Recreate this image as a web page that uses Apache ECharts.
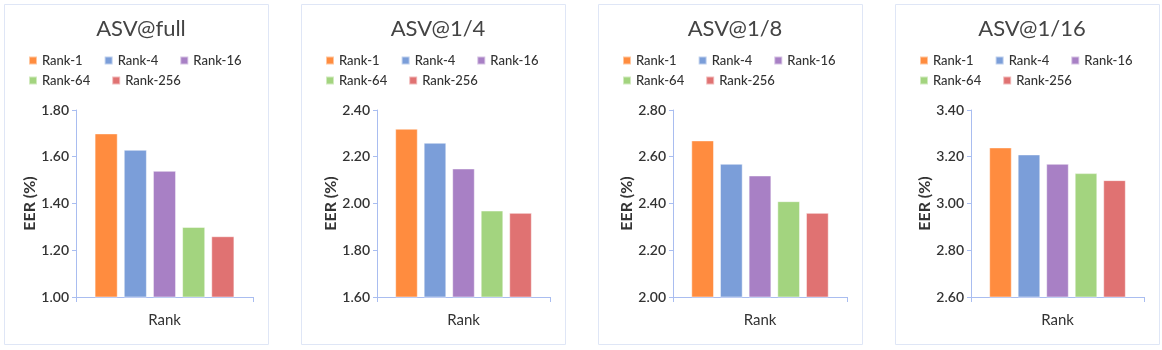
<!DOCTYPE html>
<html>
<head>
<meta charset="utf-8">
<script src="https://cdn.jsdelivr.net/npm/echarts@6/dist/echarts.min.js"></script>
<style>
  html, body { margin: 0; padding: 0; background: #fff; }
  #chart { width: 1162px; height: 350px; }
</style>
</head>
<body>
<div id="chart"></div>
<script>
const titles = ['ASV@full', 'ASV@1/4', 'ASV@1/8', 'ASV@1/16'];
const rankNames = ['Rank-1', 'Rank-4', 'Rank-16', 'Rank-64', 'Rank-256'];
const rankColors = ['#ff8c3f', '#7b9ed9', '#a880c5', '#a3d47f', '#e07272'];
const yMins = [1.0, 1.6, 2.0, 2.6];
const yMaxs = [1.8, 2.4, 2.8, 3.4];
const yStep = 0.2;
// one row per panel, one value per rank
const eerFull = [1.70, 1.63, 1.54, 1.30, 1.26];
const eerQuarter = [2.32, 2.26, 2.15, 1.97, 1.96];
const eerEighth = [2.67, 2.57, 2.52, 2.41, 2.36];
const eerSixteenth = [3.24, 3.21, 3.17, 3.13, 3.10];
const panelData = [eerFull, eerQuarter, eerEighth, eerSixteenth];

// panel frames and plot areas (px)
const panelLeft = [4, 301, 598, 895];
const panelWidth = 264;
const gridLeft = [76, 377, 673, 971];
const gridWidth = [177, 173, 174, 173];

const font = 'Lato, "Noto Sans", sans-serif';
const axisColor = '#a9bdf0';

const chart = echarts.init(document.getElementById('chart'));

let option = {
  animation: false,
  textStyle: { fontFamily: font },
  title: [],
  legend: [],
  grid: [],
  xAxis: [],
  yAxis: [],
  series: [],
  graphic: [],
};

function legendRow(names, left, top) {
  return {
    data: names,
    left: left,
    top: top,
    itemWidth: 8,
    itemHeight: 8,
    itemGap: 21,
    icon: 'rect',
    selectedMode: false,
    padding: 0,
    textStyle: { fontFamily: font, fontSize: 13, fontWeight: 500, color: '#333' },
  };
}

titles.forEach((t, i) => {
  option.graphic.push({
    type: 'rect',
    shape: { x: panelLeft[i] + 0.5, y: 4.5, width: panelWidth, height: 340 },
    style: { fill: 'none', stroke: '#dfe6f6', lineWidth: 1 },
    silent: true,
  });
  option.title.push({
    text: t,
    left: panelLeft[i] + panelWidth / 2,
    textAlign: 'center',
    top: 13,
    textStyle: { fontFamily: font, fontSize: 22, fontWeight: 'normal', color: '#444' },
  });
  option.legend.push(legendRow(rankNames.slice(0, 3), panelLeft[i] + 24, 54));
  option.legend.push(legendRow(rankNames.slice(3), panelLeft[i] + 24, 74));
  option.grid.push({
    left: gridLeft[i],
    top: 110,
    width: gridWidth[i],
    height: 187,
  });
  option.xAxis.push({
    type: 'category',
    gridIndex: i,
    data: ['Rank'],
    name: 'Rank',
    nameLocation: 'middle',
    nameGap: 16,
    nameTextStyle: { fontFamily: font, fontSize: 15, color: '#333' },
    axisLabel: { show: false },
    axisLine: { lineStyle: { color: axisColor } },
    axisTick: { show: true, length: 5, lineStyle: { color: axisColor } },
  });
  option.yAxis.push({
    type: 'value',
    gridIndex: i,
    min: yMins[i],
    max: yMaxs[i],
    interval: yStep,
    name: 'EER (%)',
    nameLocation: 'middle',
    nameGap: 34,
    nameTextStyle: { fontFamily: font, fontSize: 16, fontWeight: 'bold', color: '#333' },
    axisLine: { show: true, lineStyle: { color: axisColor } },
    axisTick: { show: true, length: 4, lineStyle: { color: axisColor } },
    axisLabel: {
      fontFamily: font,
      fontSize: 14,
      fontWeight: 600,
      color: '#333',
      margin: 7,
      formatter: v => v.toFixed(2),
    },
    splitLine: { show: false },
  });
  rankNames.forEach((name, k) => {
    option.series.push({
      name: name,
      type: 'bar',
      xAxisIndex: i,
      yAxisIndex: i,
      data: [panelData[i][k]],
      barGap: '26%',
      barCategoryGap: '21%',
      itemStyle: {
        color: rankColors[k],
        borderColor: 'rgba(255,255,255,0.5)',
        borderWidth: 1,
      },
    });
  });
});

chart.setOption(option);
</script>
</body>
</html>
